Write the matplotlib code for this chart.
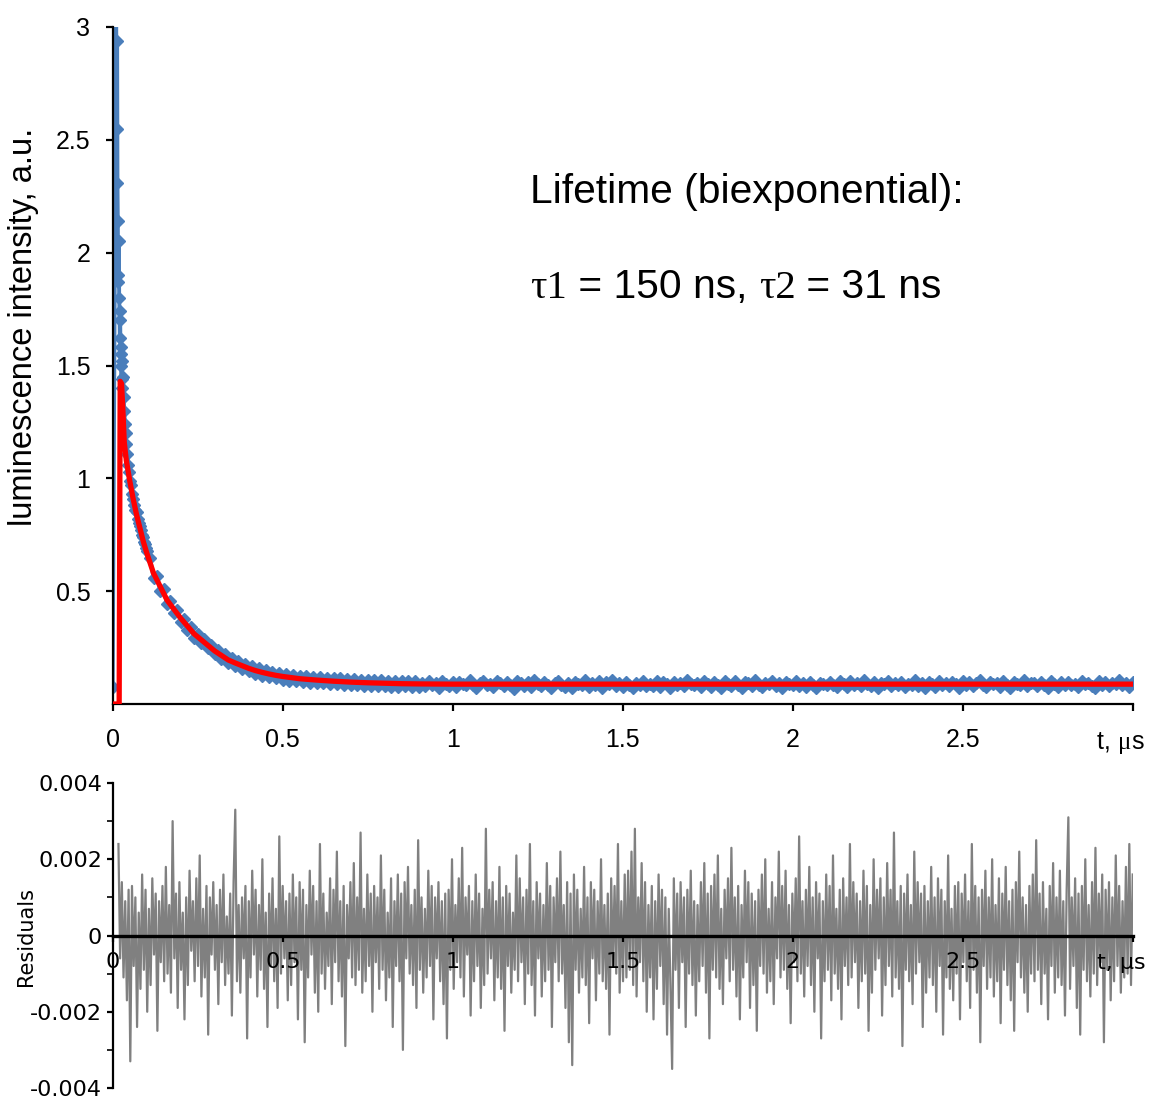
import numpy as np
import matplotlib
matplotlib.use("Agg")
import matplotlib.pyplot as plt
from matplotlib.ticker import MultipleLocator

# ---------------- data ----------------
# measured decay, early part (t in us, intensity a.u.)
early_t = [0.000, 0.010, 0.012, 0.013, 0.014, 0.015, 0.016, 0.017, 0.018, 0.019,
           0.020, 0.021, 0.022, 0.023, 0.024, 0.025, 0.026, 0.027, 0.028, 0.030,
           0.032, 0.034, 0.036, 0.038, 0.040, 0.043, 0.046, 0.049, 0.052, 0.055,
           0.058, 0.061, 0.064, 0.067, 0.070, 0.073, 0.076, 0.079, 0.082, 0.085,
           0.088, 0.091, 0.094, 0.097, 0.100]
early_v = [0.077, 3.10, 2.55, 2.94, 2.31, 2.14, 1.90, 1.87, 2.05, 1.80,
           1.74, 1.62, 1.70, 1.55, 1.50, 1.58, 1.44, 1.52, 1.40, 1.45,
           1.36, 1.30, 1.24, 1.20, 1.15, 1.11, 1.06, 1.03, 0.99, 0.97,
           0.93, 0.91, 0.88, 0.86, 0.85, 0.82, 0.80, 0.79, 0.77, 0.75,
           0.74, 0.72, 0.71, 0.69, 0.68]

# measured decay, from 0.11 us in 0.01 us steps (values in 1e-3 a.u.)
main_t0 = 0.11
main_dt = 0.01
main_v_milli = [
    645, 560, 568, 500, 508, 442, 458, 402, 417, 365,
    378, 330, 342, 294, 312, 270, 288, 246, 262, 220,
    240, 200, 220, 180, 203, 168, 191, 156, 178, 145,
    167, 134, 158, 126, 150, 120, 144, 114, 138, 108,
    134, 104, 130, 101, 126, 98, 124, 95, 121, 93,
    119, 91, 117, 89, 115, 87, 113, 85, 111, 84,
    109, 82, 108, 81, 107, 80, 106, 79, 105, 78,
    104, 77, 103, 76, 102, 78, 101, 75, 103, 76,
    95, 79, 101, 84, 92, 73, 104, 88, 80, 97,
    76, 99, 90, 82, 106, 85, 71, 94, 100, 83,
    89, 74, 102, 93, 78, 97, 86, 68, 103, 91,
    81, 96, 75, 108, 87, 79, 98, 84, 72, 95,
    101, 86, 77, 93, 70, 99, 89, 82, 105, 76,
    92, 84, 100, 73, 96, 88, 107, 80, 91, 74,
    98, 83, 69, 94, 86, 102, 78, 90, 81, 104,
    75, 97, 88, 71, 99, 85, 93, 79, 106, 87,
    82, 95, 74, 101, 90, 77, 96, 84, 70, 100,
    89, 78, 103, 86, 73, 97, 92, 81, 108, 85,
    76, 94, 88, 100, 79, 91, 72, 98, 87, 83,
    104, 80, 93, 75, 99, 86, 69, 95, 90, 82,
    97, 84, 77, 102, 89, 74, 100, 85, 93, 78,
    106, 88, 81, 96, 71, 92, 87, 103, 79, 94,
    83, 99, 76, 90, 85, 107, 80, 95, 72, 98,
    88, 74, 101, 84, 93, 78, 96, 89, 70, 102,
    86, 97, 79, 91, 105, 82, 75, 99, 87, 93,
    77, 100, 85, 73, 96, 90, 83, 108, 81, 94,
    92, 79, 98, 86, 71, 103, 88, 76, 97, 84,
    99, 82, 90, 75, 104, 87, 93, 80, 72, 101,
    85, 96, 78, 94, 88, 106, 83, 91, 77, 98,
]

# biexponential fit curve (t in us, intensity a.u.)
fit_t = [0, 0.019, 0.022, 0.026, 0.030, 0.034, 0.040, 0.050, 0.060, 0.070,
         0.080, 0.090, 0.100, 0.120, 0.140, 0.160, 0.180, 0.200, 0.220, 0.240,
         0.260, 0.280, 0.300, 0.320, 0.340, 0.360, 0.380, 0.400, 0.420, 0.440,
         0.460, 0.480, 0.500, 0.550, 0.600, 0.650, 0.700, 0.750, 0.800, 0.850,
         0.900, 1.0, 1.5, 2.0, 2.5, 3.0]
fit_v = [0, 0, 1.43, 1.42, 1.30, 1.16, 1.08, 0.99, 0.91, 0.84,
         0.78, 0.72, 0.67, 0.58, 0.52, 0.46, 0.42, 0.38, 0.345, 0.31,
         0.285, 0.26, 0.235, 0.215, 0.195, 0.182, 0.170, 0.158, 0.148, 0.140,
         0.133, 0.127, 0.122, 0.112, 0.106, 0.101, 0.097, 0.094, 0.092, 0.090,
         0.089, 0.088, 0.088, 0.088, 0.088, 0.088]

# residuals (units of 1e-4), sampled evenly from 0.016 us to 3.0 us
res_start, res_end = 0.016, 3.0
res_e4 = [
    24, -6, 14, -11, 9, -17, 12, -33, 13, -8, 10, -24, 6, -14, 16,
    -9, 12, -20, 7, -13, 15, -5, 11, -25, 9, -7, 13, -12, 18, -10,
    8, -15, 30, -6, 11, -19, 14, -9, 6, -22, 10, -13, 17, -4, 9,
    -12, 15, -8, 21, -16, 7, -11, 13, -26, 10, -5, 14, -9, 8, -18,
    12, -7, 16, -13, 5, -10, 11, -21, 14, 33, -12, 8, -15, 10, -6,
    13, -27, 9, -11, 17, -5, 12, -16, 8, -9, 20, -14, 6, -24, 11,
    -8, 15, -12, 7, -19, 26, -10, 13, -6, 9, -17, 11, -13, 16, -7,
    10, -22, 14, -9, 12, -28, 8, -11, 17, -5, 13, -15, 9, -20, 24,
    -10, 11, -14, 6, -8, 15, -18, 12, -7, 22, -12, 9, -16, 13, -29,
    8, -6, 14, -11, 19, -13, 10, -9, 27, -15, 7, -12, 16, -8, 11,
    -20, 13, -7, 10, -14, 21, -9, 12, -17, 6, -11, 15, -24, 9, -8,
    16, -12, 11, -30, 14, -6, 18, -10, 8, -13, 12, -19, 25, -9, 10,
    -15, 7, -11, 17, -8, 13, -22, 10, -6, 14, -12, 9, -18, 11, -27,
    12, -9, 20, -14, 8, -7, 15, -11, 23, -16, 10, -5, 13, -21, 9,
    -12, 16, -8, 11, -19, 7, -13, 28, -10, 12, -6, 14, -17, 9, -11,
    18, -14, 10, -25, 13, -8, 11, -15, 6, -9, 21, -12, 15, -7, 10,
    -18, 12, -10, 24, -13, 9, -21, 14, -6, 11, -16, 8, -12, 19, -9,
    13, -24, 10, -7, 15, -12, 22, -10, 8, -19, 14, -28, 11, -34, 16,
    -9, 12, -15, 7, -11, 18, -13, 10, -23, 14, -6, 12, -17, 9, -10,
    20, -12, 8, -14, 11, -26, 15, -8, 13, -10, 24, -15, 9, -12, 16,
    -11, 17, -9, 22, -13, 28, -16, 10, -7, 19, -12, 14, -20, 8, -11,
    13, -22, 9, -14, 16, -8, 12, -18, 10, -26, 7, -13, -35, 15, -9,
    11, -19, 14, -7, 10, -24, 12, -10, 17, -13, 9, -21, 8, -12, 14,
    -8, 19, -15, 11, -27, 13, -9, 16, -11, 21, -14, 7, -18, 12, -6,
    15, -12, 23, -9, 10, -16, 13, -22, 8, -11, 17, -7, 14, -19, 11,
    -13, 9, -25, 12, -8, 16, -10, 20, -15, 7, -12, 14, -18, 10, -6,
    22, -11, 13, -9, 17, -14, 8, -23, 11, -7, 15, -12, 26, -10, 9,
    -16, 12, -8, 18, -13, 10, -20, 14, -6, 11, -27, 9, -12, 16, -9,
    13, -17, 21, -10, 7, -14, 12, -22, 15, -8, 10, -13, 24, -11, 14,
    -7, 11, -19, 9, -12, 17, -10, 13, -25, 8, -15, 20, -9, 12, -6,
    15, -21, 10, -13, 19, -8, 12, -16, 27, -11, 9, -14, 13, -29, 11,
    -9, 16, -12, 8, -18, 22, -10, 14, -7, 11, -24, 13, -15, 9, -11,
    18, -13, 10, -20, 15, -8, 12, -26, 9, -11, 21, -14, 7, -17, 13,
    -10, 14, -22, 11, -7, 16, -12, 9, -19, 24, -9, 13, -15, 10, -28,
    12, -8, 17, -14, 10, -11, 20, -16, 8, -12, 15, -23, 11, -9, 18,
    -13, 9, -17, 12, -25, 14, -7, 22, -11, 10, -15, 8, -20, 13, -10,
    16, -12, 25, -9, 11, -18, 14, -10, 7, -22, 13, -8, 19, -15, 10,
    -11, 17, -13, 9, -21, 12, 31, -14, 10, -8, 15, -19, 11, -26, 13,
    -9, 20, -12, 8, -16, 14, -10, 23, -13, 11, -7, 16, -28, 12, -9,
    14, -17, 10, -12, 21, -8, 13, -15, 9, -11, 18, -10, 24, -13, 16,
]

x_ticks = [0, 0.5, 1, 1.5, 2, 2.5, 3]
x_tick_labels = ['0', '0.5', '1', '1.5', '2', '2.5', '']
top_y_ticks = [0.5, 1, 1.5, 2, 2.5, 3]
top_y_labels = ['0.5', '1', '1.5', '2', '2.5', '3']
res_y_ticks = [-0.004, -0.002, 0, 0.002, 0.004]
res_y_labels = ['-0.004', '-0.002', '0', '0.002', '0.004']

# ---------------- assemble series ----------------
main_v = np.array(main_v_milli) / 1000.0
main_t = main_t0 + main_dt * np.arange(len(main_v))
data_t = np.concatenate([early_t, main_t])
data_v = np.concatenate([early_v, main_v])
res_v = np.array(res_e4) * 1e-4
res_t = np.linspace(res_start, res_end, len(res_v))

BLUE = '#4a7ebb'
RED = '#ff0000'
GRAY = '#808080'
SANS = ['Liberation Sans', 'DejaVu Sans']
SERIF = ['Liberation Serif', 'DejaVu Serif']
VSANS = ['DejaVu Sans']

fig = plt.figure(figsize=(11.55, 11.0), dpi=100)
W, H = 1155.0, 1100.0
renderer = fig.canvas.get_renderer()


def place_pieces(x_px, base_px, pieces, fontsize):
    """Write text pieces one after another on a common baseline (pixels from top-left)."""
    x = x_px
    for s, fam in pieces:
        t = fig.text(x / W, 1 - base_px / H, s, ha='left', va='baseline',
                     family=fam, fontsize=fontsize)
        x += t.get_window_extent(renderer).width


# ---------------- top panel ----------------
ax1 = fig.add_axes([112.7 / W, 1 - 704 / H, 1020 / W, 677 / H])
ax1.plot(data_t, data_v, '-', color=BLUE, lw=2.8, marker='D', ms=6,
         mfc=BLUE, mec=BLUE, zorder=2)
ax1.plot(fit_t, fit_v, '-', color=RED, lw=3.8, zorder=3)
ax1.set_xlim(0, 3)
ax1.set_ylim(0, 3)
for s in ['top', 'right']:
    ax1.spines[s].set_visible(False)
for s in ['left', 'bottom']:
    ax1.spines[s].set_linewidth(1.6)
    ax1.spines[s].set_color('black')
ax1.set_xticks(x_ticks)
ax1.set_xticklabels(x_tick_labels, family=SANS, fontsize=18)
ax1.set_yticks(top_y_ticks)
ax1.set_yticklabels(top_y_labels, family=SANS, fontsize=18)
ax1.tick_params(axis='x', direction='out', length=5, width=1.6, pad=12)
ax1.tick_params(axis='y', direction='out', length=5, width=1.6, pad=11)

# "t, μs" in place of the last x tick label
place_pieces(1097, 749, [('t, ', SANS), ('\u03bc', SERIF), ('s', SANS)], 18)

fig.text(24 / W, 1 - 327 / H, 'luminescence intensity, a.u.', rotation=90,
         ha='center', va='center', family=SANS, fontsize=23.5)

# text block
fs_txt = 29.3
fig.text(530 / W, 1 - 203 / H, 'Lifetime (biexponential):', ha='left',
         va='baseline', family=SANS, fontsize=fs_txt)
place_pieces(530, 298, [('\u03c41', SERIF), (' = 150 ns, ', SANS),
                        ('\u03c42', SERIF), (' = 31 ns', SANS)], fs_txt)

# ---------------- residual panel ----------------
ax2 = fig.add_axes([113 / W, 1 - 1088 / H, 1019.7 / W, 305 / H])
ax2.set_axisbelow(False)
ax2.plot(res_t, res_v, '-', color=GRAY, lw=1.6, zorder=2)
ax2.set_xlim(0, 3)
ax2.set_ylim(-0.004, 0.004)
for s in ['top', 'right']:
    ax2.spines[s].set_visible(False)
ax2.spines['bottom'].set_position(('data', 0))
ax2.spines['bottom'].set_linewidth(2.4)
ax2.spines['left'].set_linewidth(1.6)
ax2.spines['bottom'].set_zorder(4)
ax2.spines['left'].set_zorder(4)
ax2.set_xticks(x_ticks)
ax2.set_xticklabels(x_tick_labels, family=VSANS, fontsize=16)
ax2.set_yticks(res_y_ticks)
ax2.set_yticklabels(res_y_labels, family=VSANS, fontsize=16)
ax2.yaxis.set_minor_locator(MultipleLocator(0.001))
ax2.tick_params(axis='x', direction='out', length=4, width=1.6, pad=8)
ax2.tick_params(axis='y', which='major', direction='out', length=4, width=1.6, pad=4)
ax2.tick_params(axis='y', which='minor', direction='out', length=4, width=1.2)
place_pieces(1097, 969, [('t, \u03bcs', VSANS)], 16)
fig.text(26 / W, 1 - 937 / H, 'Residuals', rotation=90, ha='center',
         va='center', family=VSANS, fontsize=15)

fig.savefig('out.png', dpi=100)
